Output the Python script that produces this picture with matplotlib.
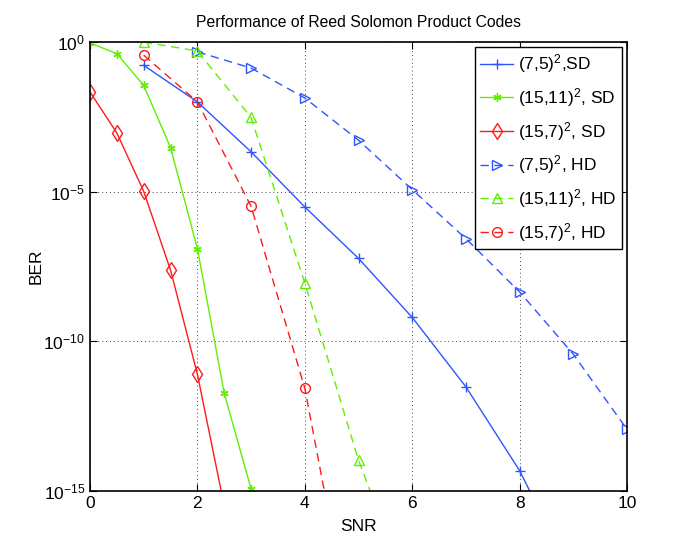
import matplotlib
matplotlib.use("Agg")
import matplotlib.pyplot as plt
import numpy as np

plt.rcParams['font.family'] = ['Liberation Sans', 'DejaVu Sans']
plt.rcParams['mathtext.fontset'] = 'custom'
plt.rcParams['mathtext.rm'] = 'Liberation Sans'
plt.rcParams['mathtext.it'] = 'Liberation Sans'

# SNR values and log10(BER)
snr_75_sd = [1, 2, 3, 4, 5, 6, 7, 8, 9]
ber_75_sd = [-0.78, -2.0, -3.67, -5.51, -7.23, -9.2, -11.52, -14.32, -17.9]

snr_1511_sd = [0, 0.5, 1, 1.5, 2, 2.5, 3]
ber_1511_sd = [-0.03, -0.39, -1.45, -3.53, -6.9, -11.74, -14.93]

snr_157_sd = [0, 0.5, 1, 1.5, 2, 2.5]
ber_157_sd = [-1.67, -3.04, -4.99, -7.62, -11.1, -15.5]

snr_75_hd = [2, 3, 4, 5, 6, 7, 8, 9, 10]
ber_75_hd = [-0.33, -0.87, -1.87, -3.28, -4.93, -6.57, -8.35, -10.43, -12.94]

snr_1511_hd = [1, 2, 3, 4, 5, 6]
ber_1511_hd = [0.0, -0.3, -2.52, -8.05, -13.97, -18.7]

snr_157_hd = [1, 2, 3, 4, 5]
ber_157_hd = [-0.44, -2.0, -5.49, -11.57, -21.0]

labels = [r'$(7{,}5)^2$,SD', r'$(15{,}11)^2$, SD', r'$(15{,}7)^2$, SD',
          r'$(7{,}5)^2$, HD', r'$(15{,}11)^2$, HD', r'$(15{,}7)^2$, HD']

blue = '#2f55ff'
green = '#5ef000'
red = '#ff1a1a'

fig = plt.figure(figsize=(6.92, 5.54), dpi=100)
ax = fig.add_axes([90/692, 1 - 491/554, 537/692, 449/554])

lw = 1.0
ms = 7
ax.semilogy(snr_75_sd, 10.0**np.array(ber_75_sd), '-', color=blue, marker='+', ms=ms, lw=lw, label=labels[0])
ax.semilogy(snr_1511_sd, 10.0**np.array(ber_1511_sd), '-', color=green, marker=(6, 2, 0), ms=ms-1, lw=lw, label=labels[1])
ax.semilogy(snr_157_sd, 10.0**np.array(ber_157_sd), '-', color=red, marker='d', mfc='none', ms=ms+1, lw=lw, label=labels[2])
ax.semilogy(snr_75_hd, 10.0**np.array(ber_75_hd), '--', color=blue, marker='>', mfc='none', ms=ms, lw=lw,
            dashes=(6, 4), label=labels[3])
ax.semilogy(snr_1511_hd, 10.0**np.array(ber_1511_hd), '--', color=green, marker='^', mfc='none', ms=ms, lw=lw,
            dashes=(6, 4), label=labels[4])
ax.semilogy(snr_157_hd, 10.0**np.array(ber_157_hd), '--', color=red, marker='o', mfc='none', ms=ms, lw=lw,
            dashes=(6, 4), label=labels[5])

ax.set_xlim(0, 10)
ax.set_ylim(1e-15, 1e0)
ax.set_xticks([0, 2, 4, 6, 8, 10])
ax.set_yticks([1e-15, 1e-10, 1e-5, 1e0])
ax.set_yticklabels([r'$10^{-15}$', r'$10^{-10}$', r'$10^{-5}$', r'$10^{0}$'])
ax.minorticks_off()
ax.tick_params(direction='in', top=True, right=True, length=5, width=0.8, labelsize=12.5)
ax.grid(True, which='major', linestyle=(0, (1, 3)), color='#444444', lw=0.7)
for s in ax.spines.values():
    s.set_linewidth(1.2)

ax.set_xlabel('SNR', fontsize=12.5, labelpad=6)
ax.set_ylabel('BER', fontsize=12.5, labelpad=0)
ax.set_title('Performance of Reed Solomon Product Codes', fontsize=11.3, pad=11)

leg = ax.legend(loc='upper right', fontsize=12.5, fancybox=False, framealpha=1,
                edgecolor='black', handlelength=1.9, borderaxespad=0.3,
                labelspacing=0.62, handletextpad=0.3, borderpad=0.3)
leg.get_frame().set_linewidth(1.0)

fig.savefig('out.png', dpi=100)
